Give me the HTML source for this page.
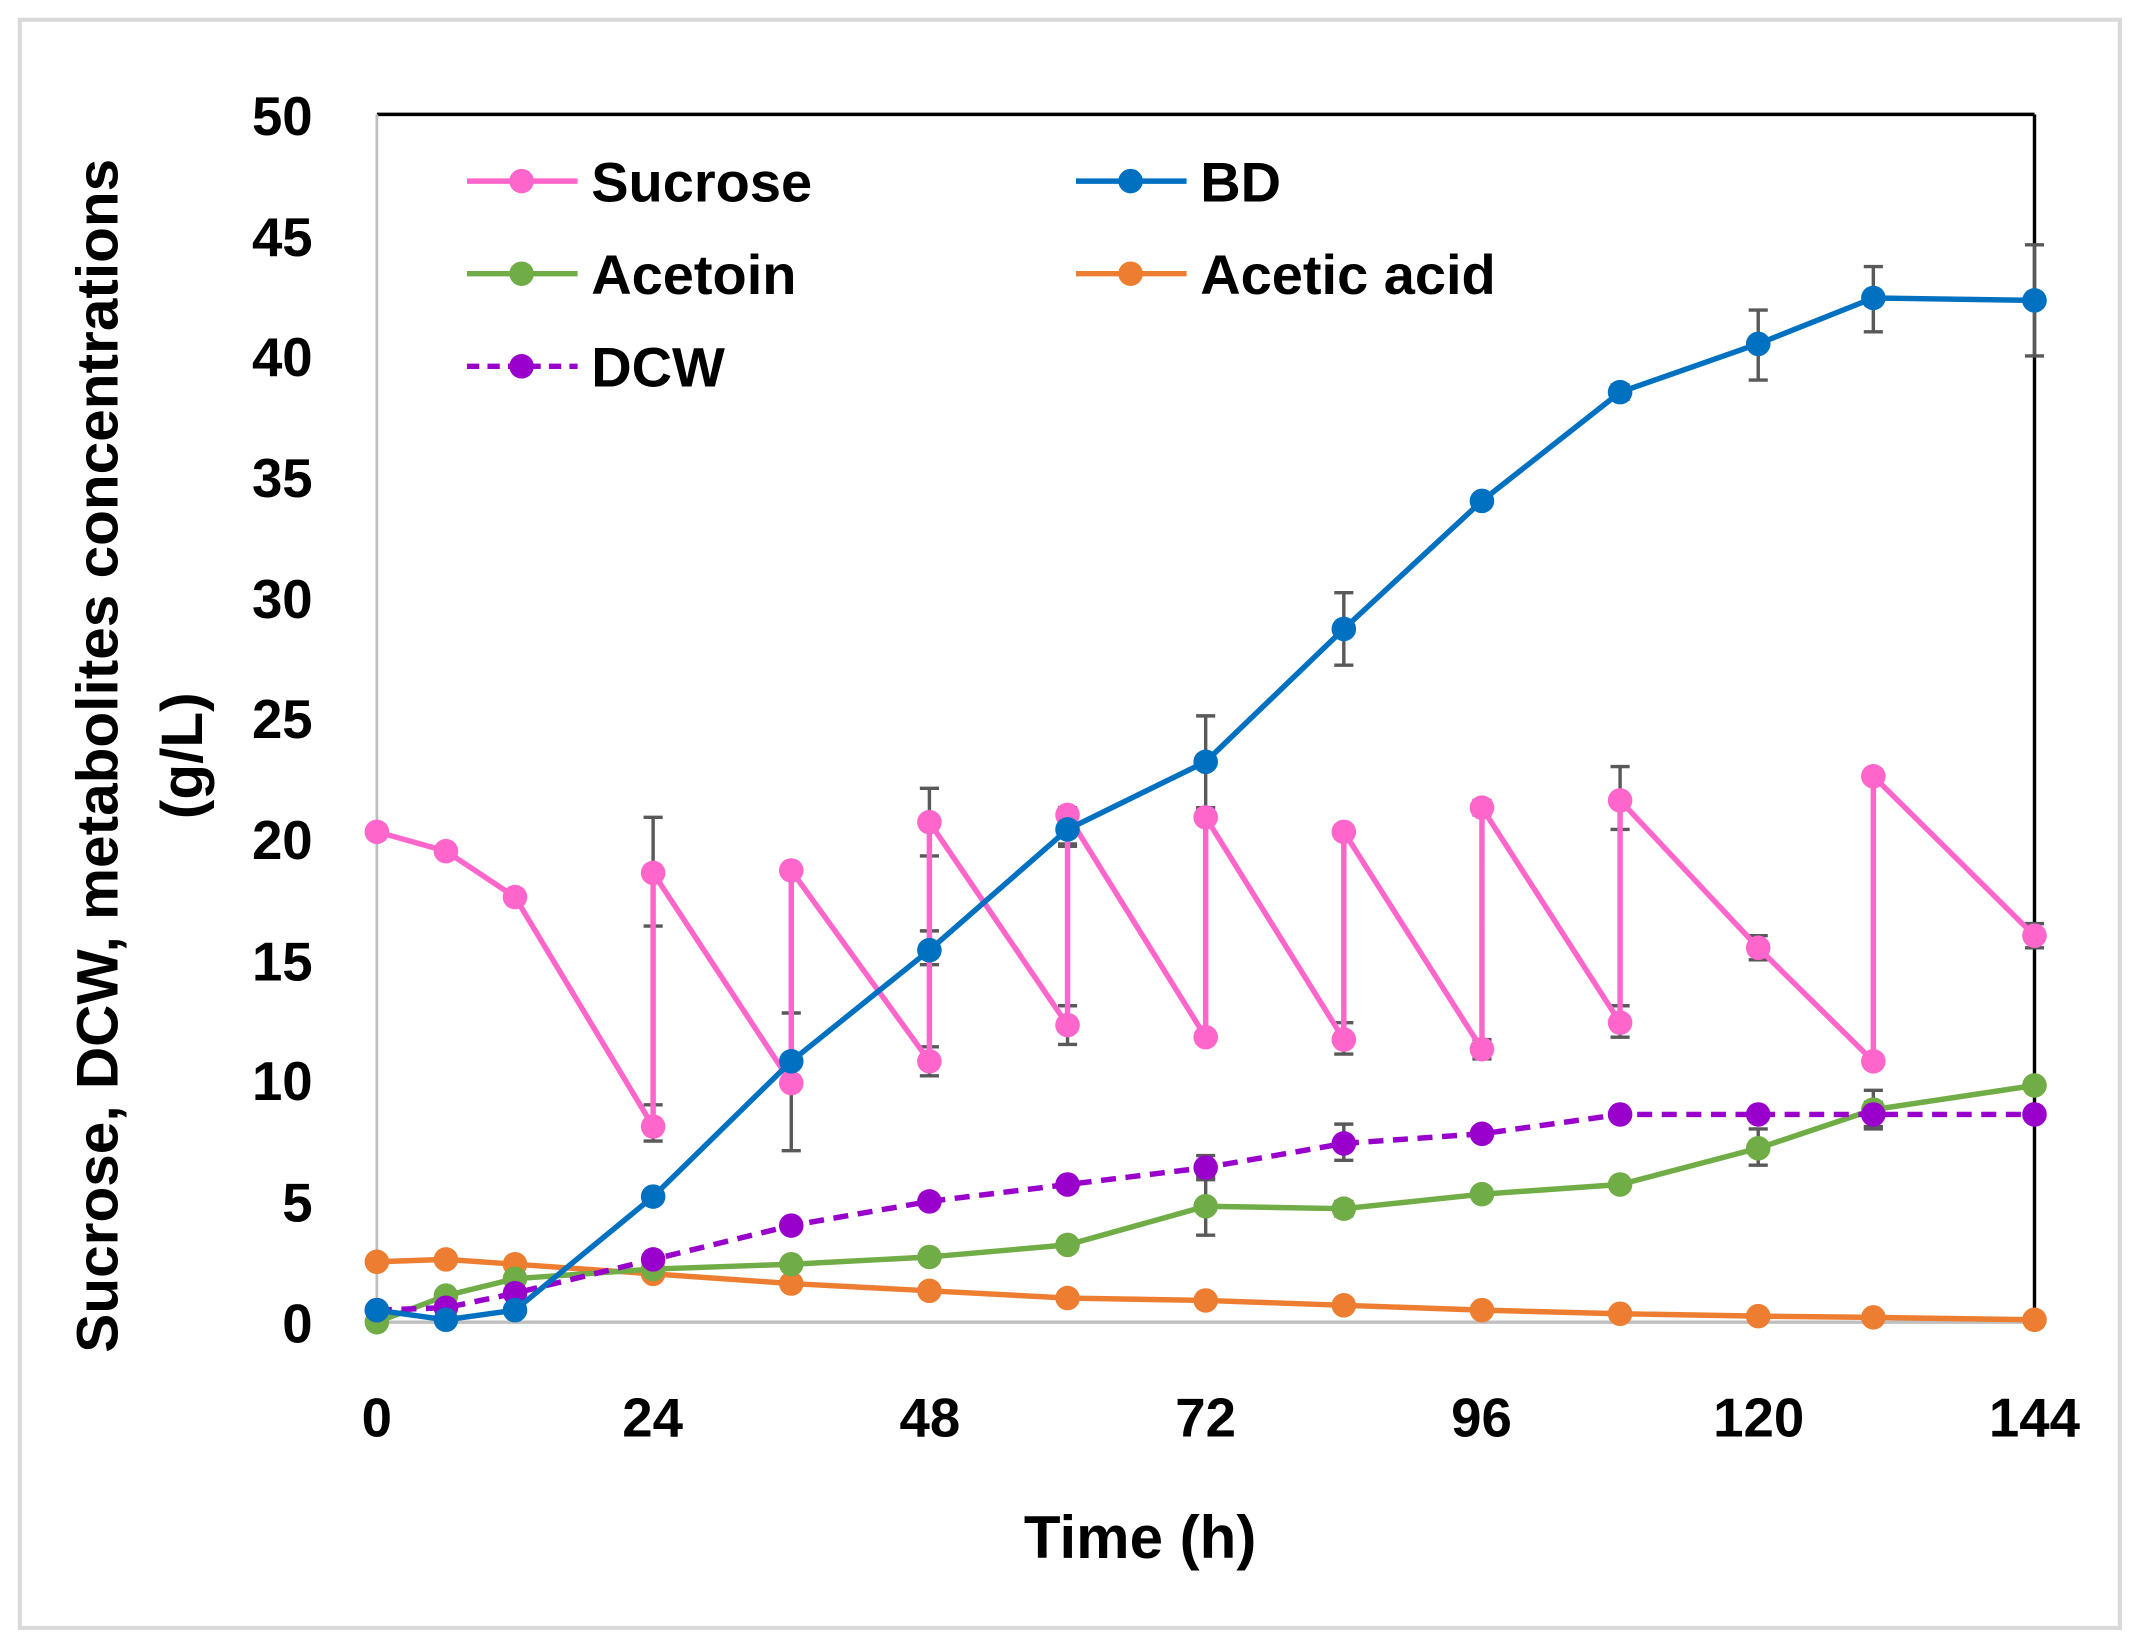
<!DOCTYPE html>
<html><head><meta charset="utf-8"><style>
html,body{margin:0;padding:0;background:#fff;}
svg{display:block;}
text{font-family:"Liberation Sans",sans-serif;font-weight:bold;fill:#000;}
</style></head><body>
<svg id="s" width="2141" height="1649" viewBox="0 0 1568 1211" preserveAspectRatio="none" xmlns="http://www.w3.org/2000/svg">
<rect x="0" y="0" width="1568" height="1211" fill="#fff"/>
<rect x="14.5" y="14.5" width="1538" height="1181" fill="#fff" stroke="#d9d9d9" stroke-width="3"/>
<line x1="276" y1="84" x2="1490" y2="84" stroke="#000" stroke-width="2.5"/>
<line x1="1490" y1="84" x2="1490" y2="971" stroke="#000" stroke-width="2.5"/>
<line x1="276" y1="84" x2="276" y2="971" stroke="#bfbfbf" stroke-width="2"/>
<line x1="276" y1="971" x2="1490" y2="971" stroke="#bfbfbf" stroke-width="2.5"/>
<g id="g"></g>
<g font-size="40" text-anchor="end">
<text x="229" y="99">50</text><text x="229" y="188">45</text><text x="229" y="276">40</text>
<text x="229" y="365">35</text><text x="229" y="454">30</text><text x="229" y="542">25</text>
<text x="229" y="631">20</text><text x="229" y="720">15</text><text x="229" y="808">10</text>
<text x="229" y="897">5</text><text x="229" y="986">0</text>
</g>
<g font-size="40" text-anchor="middle">
<text x="276" y="1055">0</text><text x="478" y="1055">24</text><text x="681" y="1055">48</text>
<text x="883" y="1055">72</text><text x="1085" y="1055">96</text><text x="1288" y="1055">120</text>
<text x="1490" y="1055">144</text>
<text x="835" y="1144" font-size="44">Time (h)</text>
<text transform="translate(86,555) rotate(-90)" font-size="43">Sucrose, DCW, metabolites concentrations</text>
<text transform="translate(148,555) rotate(-90)" font-size="43">(g/L)</text>
</g>
<g font-size="41">
<line x1="342" y1="133" x2="423" y2="133" stroke="#ff66cc" stroke-width="4"/><circle cx="382" cy="133" r="9" fill="#ff66cc"/>
<text x="433" y="148">Sucrose</text>
<line x1="342" y1="201" x2="423" y2="201" stroke="#70ad47" stroke-width="4"/><circle cx="382" cy="201" r="9" fill="#70ad47"/>
<text x="433" y="216">Acetoin</text>
<line x1="342" y1="269" x2="423" y2="269" stroke="#9900cc" stroke-width="4" stroke-dasharray="9,6"/><circle cx="382" cy="269" r="9" fill="#9900cc"/>
<text x="433" y="284">DCW</text>
<line x1="788" y1="133" x2="869" y2="133" stroke="#0070c0" stroke-width="4"/><circle cx="828" cy="133" r="9" fill="#0070c0"/>
<text x="879" y="148">BD</text>
<line x1="788" y1="201" x2="869" y2="201" stroke="#ed7d31" stroke-width="4"/><circle cx="828" cy="201" r="9" fill="#ed7d31"/>
<text x="879" y="216">Acetic acid</text>
</g>
</svg>
<script>
var X=t=>276+t*1214/144, Y=v=>971-v*17.74;
var g=document.getElementById('g'),ns='http://www.w3.org/2000/svg';
function el(n,a){var e=document.createElementNS(ns,n);for(var k in a)e.setAttribute(k,a[k]);g.appendChild(e);return e;}
var err=[[24,16.4,20.9],[24,7.5,9.0],[36,18.5,18.9],[36,7.1,12.8],[48,19.3,22.1],[48,10.2,11.4],[60,11.5,13.1],[60,19.7,21.3],[72,20.7,21.1],[84,11.1,12.4],[84,20.1,20.5],[96,21.0,21.6],[96,10.9,11.7],[108,20.4,23.0],[108,11.8,13.1],[120,15.0,16.0],[144,15.5,16.5],
[48,14.8,16.2],[60,19.8,21.0],[72,21.3,25.1],[84,27.2,30.2],[108,38.2,38.8],[120,39.0,41.9],[130,41.0,43.7],[144,40.0,44.6],
[72,3.6,5.9],[120,6.5,8.0],[130,8.0,9.6],[84,4.4,5.0],[72,6.0,6.9],[84,6.7,8.2],[130,8.1,9.1]];
err.forEach(e=>{var x=X(e[0]);el('line',{x1:x,x2:x,y1:Y(e[1]),y2:Y(e[2]),stroke:'#595959','stroke-width':2.5});
[e[1],e[2]].forEach(v=>el('line',{x1:x-7,x2:x+7,y1:Y(v),y2:Y(v),stroke:'#595959','stroke-width':2.5}));});
var S=[
['#ed7d31',0,[[0,2.5],[6,2.6],[12,2.4],[24,2.0],[36,1.6],[48,1.3],[60,1.0],[72,0.9],[84,0.7],[96,0.5],[108,0.35],[120,0.25],[130,0.2],[144,0.1]]],
['#70ad47',0,[[0,0],[6,1.1],[12,1.8],[24,2.2],[36,2.4],[48,2.7],[60,3.2],[72,4.8],[84,4.7],[96,5.3],[108,5.7],[120,7.2],[130,8.8],[144,9.8]]],
['#9900cc',1,[[0,0.5],[6,0.6],[12,1.2],[24,2.6],[36,4.0],[48,5.0],[60,5.7],[72,6.4],[84,7.4],[96,7.8],[108,8.6],[120,8.6],[130,8.6],[144,8.6]]],
['#ff66cc',0,[[0,20.3],[6,19.5],[12,17.6],[24,8.1],[24,18.6],[36,9.9],[36,18.7],[48,10.8],[48,20.7],[60,12.3],[60,21.0],[72,11.8],[72,20.9],[84,11.7],[84,20.3],[96,11.3],[96,21.3],[108,12.4],[108,21.6],[120,15.5],[130,10.8],[130,22.6],[144,16.0]]],
['#0070c0',0,[[0,0.5],[6,0.1],[12,0.5],[24,5.2],[36,10.8],[48,15.4],[60,20.4],[72,23.2],[84,28.7],[96,34.0],[108,38.5],[120,40.5],[130,42.4],[144,42.3]]]];
S.forEach(s=>{var p=s[2].map(d=>X(d[0])+','+Y(d[1])).join(' ');
var a={points:p,fill:'none',stroke:s[0],'stroke-width':4,'stroke-linejoin':'round'};if(s[1])a['stroke-dasharray']='11,7';
el('polyline',a);s[2].forEach(d=>el('circle',{cx:X(d[0]),cy:Y(d[1]),r:9,fill:s[0]}));});
</script>
</body></html>
